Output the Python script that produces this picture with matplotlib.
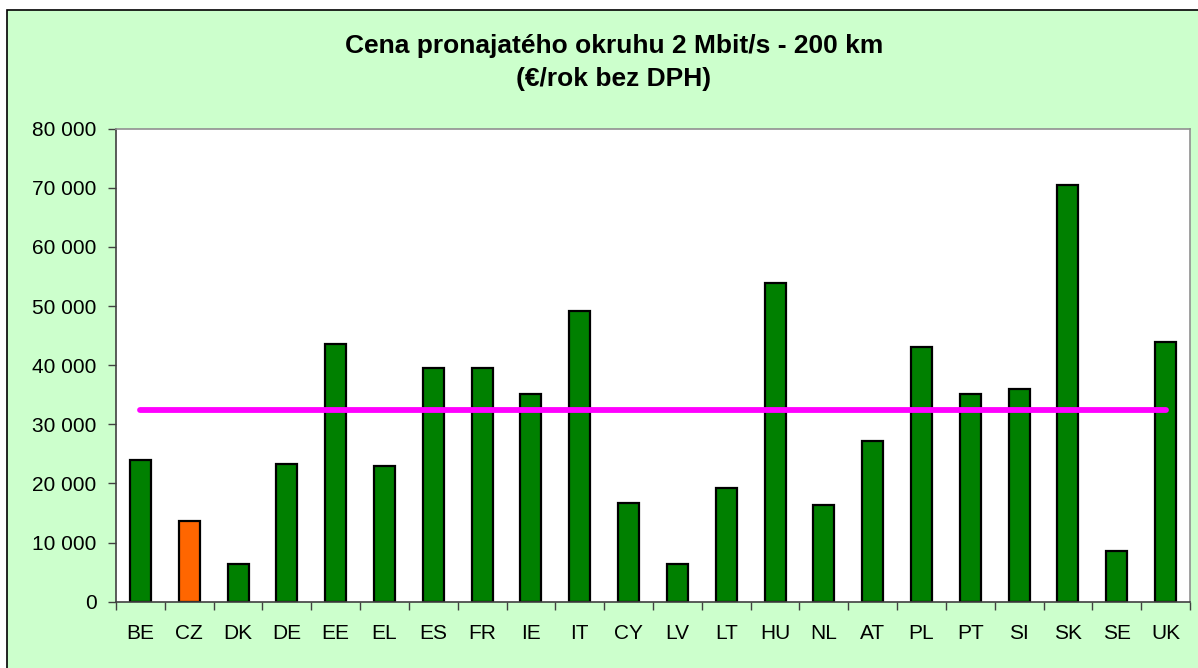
import matplotlib
matplotlib.use("Agg")
import matplotlib.pyplot as plt
from matplotlib.patches import Rectangle
from matplotlib.ticker import FuncFormatter

categories = ["BE", "CZ", "DK", "DE", "EE", "EL", "ES", "FR", "IE", "IT", "CY",
              "LV", "LT", "HU", "NL", "AT", "PL", "PT", "SI", "SK", "SE", "UK"]
prices = [24000, 13600, 6300, 23300, 43600, 22950, 39600, 39600, 35200, 49200, 16700,
          6400, 19300, 53900, 16300, 27200, 43100, 35200, 35900, 70500, 8600, 43900]
average = [32500] * len(categories)
highlight = "CZ"
title_lines = ["Cena pronajatého okruhu 2 Mbit/s - 200 km", "(€/rok bez DPH)"]
yticks = [0, 10000, 20000, 30000, 40000, 50000, 60000, 70000, 80000]

plt.rcParams['font.family'] = ['Liberation Sans', 'DejaVu Sans']

W, H = 1198, 668
fig = plt.figure(figsize=(W / 100, H / 100), dpi=100)
fig.patch.set_facecolor("white")

# chart area background with black border (left/top visible)
bg = Rectangle((7 / W, -0.2), 1.5, 1.2 - 10 / H, transform=fig.transFigure,
               facecolor="#CCFFCC", edgecolor="black", linewidth=1.2, zorder=-10)
fig.patches.append(bg)

ax = fig.add_axes([116 / W, 1 - 601.7 / H, (1190 - 116) / W, (601.7 - 128.7) / H])
ax.set_zorder(5)
ax.set_facecolor("white")

x = list(range(len(categories)))
colors = ["#FF6600" if c == highlight else "#008000" for c in categories]
ax.bar(x, prices, width=0.43, color=colors, edgecolor="black", linewidth=1.6, zorder=2)
ax.plot(x, average, color="#FF00FF", linewidth=4.2, solid_capstyle="round", zorder=3)

ax.set_xlim(-0.5, len(categories) - 0.5)
ax.set_ylim(0, 80000)
ax.set_yticks(yticks)
ax.yaxis.set_major_formatter(FuncFormatter(lambda v, p: f"{int(v):,}".replace(",", " ")))

ax.set_xticks(x)
ax.set_xticklabels(categories)
ax.set_xticks([i - 0.5 for i in range(len(categories) + 1)], minor=True)
ax.tick_params(axis="x", which="major", length=0, pad=16, labelsize=15)
ax.tick_params(axis="x", which="minor", length=6, width=1, color="#404040")
ax.tick_params(axis="y", length=6, width=1, color="#404040", pad=8, labelsize=15)

for s in ["left", "bottom"]:
    ax.spines[s].set_color("#404040")
    ax.spines[s].set_linewidth(1.2)
for s in ["top", "right"]:
    ax.spines[s].set_color("#909090")
    ax.spines[s].set_linewidth(1.2)

fig.text(614 / W, 1 - 46 / H, title_lines[0], ha="center", va="center",
         fontsize=19, fontweight="bold")
fig.text(614 / W, 1 - 79 / H, title_lines[1], ha="center", va="center",
         fontsize=19, fontweight="bold")

fig.savefig("out.png", dpi=100)
